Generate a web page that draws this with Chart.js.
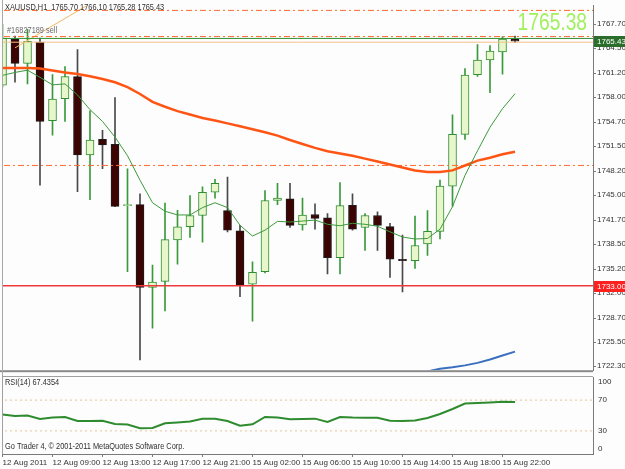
<!DOCTYPE html>
<html>
<head>
<meta charset="utf-8">
<script src="https://cdn.jsdelivr.net/npm/chart.js@4.4.0/dist/chart.umd.min.js"></script>
<style>
  html, body { margin: 0; padding: 0; background: #fff; }
  #wrap { position: relative; width: 625px; height: 469px; overflow: hidden; background: #fdfdfe; }
  #main { position: absolute; left: 0; top: 0; }
  #rsi { position: absolute; left: 0; top: 376px; }
</style>
</head>
<body>
<div id="wrap">
  <canvas id="main" width="625" height="376"></canvas>
  <canvas id="rsi" width="625" height="93"></canvas>
</div>
<script>
// XAUUSD H1 bars
const opens  = [1759.60,1765.71,1762.50,1765.32,1754.88,1757.82,1760.73,1750.33,1752.41,1751.76,
                1743.62,1743.74,1732.78,1733.56,1739.06,1740.84,1742.31,1745.39,1742.96,1740.27,
                1733.21,1734.86,1744.30,1744.52,1741.05,1742.44,1742.01,1736.72,1743.65,1740.71,
                1742.31,1740.84,1736.50,1736.30,1738.54,1740.19,1746.21,1753.06,1760.99,1762.94,
                1764.02,1765.70];
const highs  = [1767.66,1766.10,1767.00,1765.84,1760.99,1762.07,1764.32,1756.18,1753.62,1757.95,
                1748.51,1745.17,1735.72,1743.96,1743.00,1744.95,1746.12,1747.12,1747.42,1741.00,
                1736.16,1745.60,1746.56,1746.56,1744.61,1743.87,1742.57,1746.69,1745.17,1742.57,
                1742.79,1741.27,1739.71,1742.22,1742.96,1746.99,1755.66,1761.81,1764.97,1764.84,
                1766.06,1766.10];
const lows   = [1759.35,1760.00,1759.77,1746.34,1752.97,1754.79,1745.47,1744.39,1748.51,1743.48,
                1734.86,1723.16,1727.36,1729.66,1735.85,1739.41,1738.76,1744.61,1740.14,1731.52,
                1728.27,1734.70,1743.74,1740.71,1740.36,1740.49,1734.55,1734.55,1740.36,1737.67,
                1737.67,1734.08,1732.17,1735.29,1737.02,1739.19,1743.52,1752.41,1760.77,1758.60,
                1761.07,1765.28];
const closes = [1765.84,1762.50,1765.41,1754.79,1757.74,1760.73,1750.33,1752.32,1751.67,1743.52,
                1743.74,1732.78,1733.47,1739.10,1740.79,1742.31,1745.39,1746.56,1740.36,1733.04,
                1734.77,1744.30,1744.61,1741.00,1742.35,1741.92,1736.72,1743.61,1740.49,1742.31,
                1741.00,1736.50,1736.30,1738.32,1740.19,1746.21,1753.06,1760.94,1762.94,1764.11,
                1765.71,1765.43];

// moving averages
const maFast = [1760.90,1761.29,1761.59,1760.64,1759.64,1759.77,1758.30,1756.35,1754.79,1752.71,
                1750.24,1746.99,1744.00,1742.87,1742.38,1742.38,1743.35,1744.00,1743.35,1741.01,
                1739.58,1740.36,1741.53,1741.44,1741.57,1741.70,1741.14,1740.95,1741.27,1741.14,
                1740.88,1740.14,1739.45,1739.19,1739.26,1740.49,1743.48,1747.64,1750.89,1754.01,
                1756.48,1758.47];
const maSlow = [1761.88,1761.88,1761.88,1761.81,1761.55,1761.29,1761.07,1760.77,1760.42,1759.99,
                1759.34,1758.43,1757.39,1756.74,1756.16,1755.70,1755.25,1754.92,1754.53,1754.14,
                1753.75,1753.36,1752.91,1752.32,1751.80,1751.28,1750.83,1750.54,1750.24,1749.85,
                1749.46,1749.07,1748.68,1748.29,1748.07,1748.07,1748.29,1748.94,1749.59,1749.98,
                1750.44,1750.76];
const maLong = [null,null,null,null,null,null,null,null,null,null,
                null,null,null,null,null,null,null,null,null,null,
                null,null,null,null,null,null,null,null,null,null,
                null,null,null,null,1721.60,1721.97,1722.16,1722.42,1722.75,1723.20,
                1723.72,1724.24];

const rsi = [51.3,49.4,50.0,45.5,47.4,48.1,42.9,42.9,43.3,39.0,
             38.4,33.5,33.9,39.9,41.0,42.3,45.9,45.9,42.9,36.8,
             38.6,48.1,47.4,45.1,45.5,45.9,41.6,48.1,47.4,47.2,
             47.2,43.3,42.9,43.5,46.8,51.9,58.4,65.5,66.1,67.0,
             67.9,67.44];

const timeLabels = ['12 Aug 2011','12 Aug 09:00','12 Aug 13:00','12 Aug 17:00','12 Aug 21:00',
                    '15 Aug 02:00','15 Aug 06:00','15 Aug 10:00','15 Aug 14:00','15 Aug 18:00','15 Aug 22:00'];
const labelBars = [0,4,8,12,16,20,24,28,32,36,40];
const priceTicks = [1722.30,1725.50,1728.70,1732.00,1735.20,1738.50,1741.70,1745.00,
                    1748.20,1751.50,1754.70,1758.00,1761.20,1764.50,1767.70];
const rsiTicks = [100,70,30,0];
const rsiLevels = [70,30];

const dashLevels = [1769.52, 1766.05, 1748.95];
const supportLevel = 1733.00;
const orderLevel = 1765.80;
const stopLevel = 1765.30;
const bidPrice = 1765.43;
const bigPrice = '1765.38';
const header = 'XAUUSD,H1  1765.70 1766.10 1765.28 1765.43';

const X_MIN = -0.04, X_MAX = 47.24;
const FONT = "'Liberation Sans',Arial,sans-serif";
const tickFont = { family: FONT, size: 8 };

const idx = opens.map((_, i) => i);
const bull = idx.map(i => closes[i] >= opens[i]);
const hLine = v => [{ x: -1, y: v }, { x: 48, y: v }];
const series = arr => arr.map((v, i) => ({ x: i, y: v }));

const lineDs = (data, color, width, order, dash) => ({
  type: 'line', data, borderColor: color, borderWidth: width, pointRadius: 0,
  tension: 0, order, borderDash: dash || [], spanGaps: false
});

// squeezed text, the terminal font is narrower than what we have here
function narrowText(c, txt, x, y, sx) {
  c.save();
  c.translate(x, y);
  c.scale(sx, 1);
  c.fillText(txt, 0, 0);
  c.restore();
}

const bgPlugin = {
  id: 'bg',
  beforeDraw(chart) {
    const c = chart.ctx;
    c.save();
    c.fillStyle = '#fdfdfe';
    c.fillRect(0, 0, chart.width, chart.height);
    c.restore();
  }
};

const mainOverlay = {
  id: 'mainOverlay',
  afterDraw(chart) {
    const c = chart.ctx, a = chart.chartArea, y = chart.scales.y;
    c.save();
    // frame
    c.fillStyle = '#8a8a8a';
    c.fillRect(0, a.bottom, a.right, 2);
    c.fillStyle = '#a8a8a8';
    c.fillRect(a.left, 0, 1, chart.height);

    c.font = '9px ' + FONT;
    c.textBaseline = 'middle';
    c.textAlign = 'left';
    c.fillStyle = '#303030';
    narrowText(c, header, 5, 8, 0.82);
    c.fillStyle = '#6a6a6a';
    narrowText(c, '#16827189 sell', 7, 31, 0.82);

    // big price
    c.font = '24px ' + FONT;
    c.textAlign = 'right';
    c.textBaseline = 'alphabetic';
    c.fillStyle = '#a2f060';
    narrowText(c, bigPrice, 587, 30, 0.8);

    // price boxes on the axis
    c.font = '8px ' + FONT;
    c.textAlign = 'left';
    c.textBaseline = 'middle';
    const box = (v, bg, fg) => {
      const py = Math.round(y.getPixelForValue(v));
      c.fillStyle = bg;
      c.fillRect(a.right + 1, py - 5, chart.width - a.right - 1, 11);
      c.fillStyle = fg;
      c.fillText(v.toFixed(2), a.right + 4, py + 0.5);
    };
    box(bidPrice, '#2b6e2b', '#ffffff');
    box(supportLevel, '#ff2020', '#ffffff');
    c.restore();
  }
};

new Chart(document.getElementById('main'), {
  type: 'bar',
  data: {
    datasets: [
      lineDs(series(maFast), '#3c9a3c', 1, 1),
      lineDs(series(maSlow), '#ff5514', 2.5, 1),
      lineDs(series(maLong), '#3a6fc0', 2, 1),
      lineDs(hLine(supportLevel), '#f03a3a', 1.5, 2),
      lineDs(hLine(orderLevel), '#2f8f2f', 1, 2),
      lineDs(hLine(stopLevel), '#f2c28a', 1, 2),
      ...dashLevels.map(v => lineDs(hLine(v), '#ff6a2a', 1, 2, [6, 3, 2, 3])),
      lineDs([{ x: 1.0, y: 1764.55 }, { x: 7.0, y: 1770.40 }], '#f5b860', 1, 2),
      {
        type: 'bar', order: 5, grouped: false, barThickness: 8,
        data: idx.map(i => ({ x: i, y: [opens[i], closes[i]] })),
        backgroundColor: bull.map(b => b ? '#e8f6cc' : '#3c0303'),
        borderColor: bull.map(b => b ? '#2f8f2f' : '#1c1c1c'),
        borderWidth: 1, borderSkipped: false
      },
      {
        type: 'bar', order: 6, grouped: false, barThickness: 1,
        data: idx.map(i => ({ x: i, y: [lows[i], highs[i]] })),
        backgroundColor: bull.map(b => b ? '#3a9a3a' : '#4a4a4a'),
        borderWidth: 0
      }
    ]
  },
  options: {
    responsive: false,
    animation: false,
    events: [],
    layout: { padding: { left: 2, top: 2, bottom: 2, right: 0 } },
    plugins: { legend: { display: false }, tooltip: { enabled: false } },
    scales: {
      x: { type: 'linear', min: X_MIN, max: X_MAX, display: false, offset: false },
      y: {
        position: 'right', min: 1721.78, max: 1770.13,
        afterBuildTicks: s => { s.ticks = priceTicks.map(v => ({ value: v })); },
        afterFit: s => { s.width = 32; },
        grid: { drawOnChartArea: false, tickLength: 3, color: '#7a7a7a' },
        border: { display: true, color: '#7a7a7a' },
        ticks: { font: tickFont, color: '#333', padding: 1, autoSkip: false, callback: v => v.toFixed(2) }
      }
    }
  },
  plugins: [bgPlugin, mainOverlay]
});

const rsiOverlay = {
  id: 'rsiOverlay',
  afterDraw(chart) {
    const c = chart.ctx, a = chart.chartArea, y = chart.scales.y;
    c.save();
    c.fillStyle = '#a0a0a0';
    c.fillRect(a.left, 0, a.right - a.left, 1);
    c.fillRect(a.left, 0, 1, a.bottom);
    c.font = '9px ' + FONT;
    c.textBaseline = 'middle';
    c.textAlign = 'left';
    c.fillStyle = '#303030';
    narrowText(c, 'RSI(14) 67.4354', 5, 7, 0.82);
    narrowText(c, 'Go Trader 4, \u00a9 2001-2011 MetaQuotes Software Corp.', 5, 71, 0.82);
    c.font = '8px ' + FONT;
    rsiTicks.forEach(v => {
      let py = y.getPixelForValue(v);
      if (v === 100) py += 5;
      if (v === 0) py -= 5;
      c.fillText(String(v), a.right + 5, py);
    });
    c.restore();
  }
};

new Chart(document.getElementById('rsi'), {
  type: 'line',
  data: {
    datasets: [
      lineDs(series(rsi), '#2e8b2e', 2, 1),
      ...rsiLevels.map(v => lineDs(hLine(v), '#e2c596', 1, 2, [2, 3]))
    ]
  },
  options: {
    responsive: false,
    animation: false,
    events: [],
    layout: { padding: { left: 2, top: 1, bottom: 0, right: 0 } },
    plugins: { legend: { display: false }, tooltip: { enabled: false } },
    scales: {
      x: {
        type: 'linear', min: X_MIN, max: X_MAX,
        afterBuildTicks: s => { s.ticks = labelBars.map(v => ({ value: v })); },
        afterFit: s => { s.height = 15; },
        grid: { drawOnChartArea: false, tickLength: 3, color: '#7a7a7a' },
        border: { display: true, color: '#7a7a7a' },
        ticks: {
          font: tickFont, color: '#333', padding: 1, align: 'start',
          autoSkip: false, maxRotation: 0, minRotation: 0,
          callback: v => timeLabels[labelBars.indexOf(v)]
        }
      },
      y: {
        position: 'right', min: 0, max: 100,
        afterFit: s => { s.width = 32; },
        grid: { display: false },
        border: { display: true, color: '#7a7a7a' },
        ticks: { display: false }
      }
    }
  },
  plugins: [bgPlugin, rsiOverlay]
});
</script>
</body>
</html>
